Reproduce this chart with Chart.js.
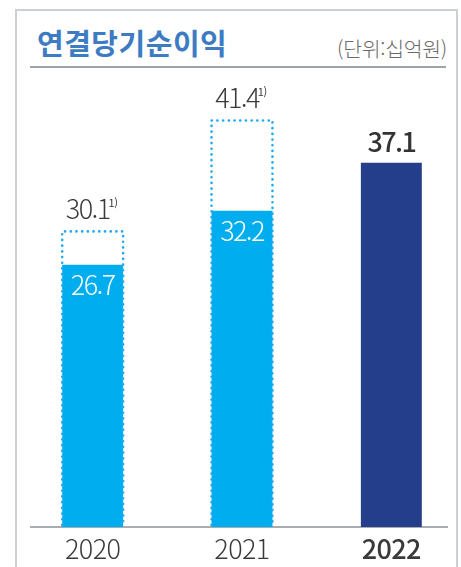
<!DOCTYPE html>
<html lang="ko">
<head>
<meta charset="utf-8">
<script src="https://cdn.jsdelivr.net/npm/chart.js@4.4.1/dist/chart.umd.min.js"></script>
<style>
    html, body { margin: 0; padding: 0; background: #fff; overflow: hidden; }
    body { width: 461px; height: 567px; position: relative; font-family: "Noto Sans CJK KR", "Noto Sans", sans-serif; }
    .frame { position: absolute; left: 15px; top: 9px; width: 443px; height: 600px; border: 2px solid #cdd0d3; box-sizing: border-box; }
    .title { position: absolute; left: 37px; top: 21px; font-size: 29px; font-weight: bold; color: #3d7cc3; letter-spacing: 0.5px; }
    .unit { position: absolute; right: 14px; top: 33px; font-size: 20.5px; color: #6a6a6a; font-weight: 300; letter-spacing: -0.3px; }
    .rule { position: absolute; left: 30px; top: 66px; width: 416px; height: 1.5px; background: #9ea3a8; }
    .axis { position: absolute; left: 30px; top: 526px; width: 418px; height: 1.5px; background: #a9adb1; }
    canvas { position: absolute; left: 0; top: 0; }
</style>
</head>
<body>
<div class="frame"></div>
<div class="title">연결당기순이익</div>
<div class="unit">(단위:십억원)</div>
<div class="rule"></div>
<div class="axis"></div>
<canvas id="profitChart" width="480" height="567"></canvas>
<script>
/* global Chart */

// 🔹 Données
const years = ["2020", "2021", "2022"];
const netIncome = [26.7, 32.2, 37.1];          // barres pleines
const restated = [30.1, 41.4, null];           // cadres pointillés
const restatedNote = ["1)", "1)", ""];
const barColors = ["#00aeef", "#00aeef", "#243e8c"];

document.addEventListener("DOMContentLoaded", function() {
    const ctx = document.getElementById("profitChart");

    // 🔹 Cadres pointillés + étiquettes de valeurs
    const labelPlugin = {
        id: "barLabels",
        beforeDraw(chart) {
            chart.ctx.letterSpacing = "-0.6px"; // police un peu plus serrée
        },
        afterDatasetsDraw(chart) {
            const c = chart.ctx;
            const base = chart.scales.y.getPixelForValue(0);
            const fillMeta = chart.getDatasetMeta(0);
            const dotMeta = chart.getDatasetMeta(1);

            c.save();
            // cadres pointillés
            dotMeta.data.forEach((bar, i) => {
                if (restated[i] === null) return;
                const l = bar.x - bar.width / 2;
                const r = bar.x + bar.width / 2;
                c.strokeStyle = "#1faaf0";
                c.lineWidth = 2.6;
                c.lineCap = "round";
                c.setLineDash([0.1, 5.6]);
                c.beginPath();
                c.moveTo(l, base - 2);
                c.lineTo(l, bar.y);
                c.lineTo(r, bar.y);
                c.lineTo(r, base - 2);
                c.stroke();
            });
            c.setLineDash([]);

            c.textAlign = "center";
            c.textBaseline = "alphabetic";
            c.letterSpacing = "-1.6px";
            // valeurs des barres pleines
            fillMeta.data.forEach((bar, i) => {
                const txt = netIncome[i].toFixed(1);
                if (restated[i] !== null) {
                    c.fillStyle = "#ffffff";
                    c.font = "300 27px 'Noto Sans CJK KR'";
                    c.fillText(txt, bar.x, bar.y + 30);
                } else {
                    c.fillStyle = "#333333";
                    c.font = "500 27px 'Noto Sans CJK KR'";
                    c.fillText(txt, bar.x, bar.y - 11);
                }
            });
            // valeurs retraitées + note
            dotMeta.data.forEach((bar, i) => {
                if (restated[i] === null) return;
                const txt = restated[i].toFixed(1);
                c.font = "300 27px 'Noto Sans CJK KR'";
                const w = c.measureText(txt).width;
                c.fillStyle = "#3a3a3a";
                c.fillText(txt, bar.x - 5, bar.y - 12);
                c.textAlign = "left";
                c.letterSpacing = "-0.5px";
                c.font = "400 11px 'Noto Sans CJK KR'";
                c.fillText(restatedNote[i], bar.x - 5 + w / 2 - 1, bar.y - 24);
                c.textAlign = "center";
                c.letterSpacing = "-1.6px";
            });
            c.restore();
        }
    };

    new Chart(ctx, {
        type: "bar",
        data: {
            labels: years,
            datasets: [{
                label: "연결당기순이익",
                data: netIncome,
                backgroundColor: barColors,
                grouped: false,
                order: 2
            }, {
                label: "1)",
                data: restated,
                backgroundColor: "rgba(0,0,0,0)",
                borderWidth: 0,
                grouped: false,
                order: 1
            }]
        },
        options: {
            responsive: false,
            animation: false,
            layout: { padding: { left: 18, right: 14, top: 36, bottom: 0 } },
            datasets: { bar: { barPercentage: 0.408, categoryPercentage: 1 } },
            plugins: { legend: { display: false }, tooltip: { enabled: false } },
            scales: {
                x: {
                    grid: { display: false, drawTicks: false },
                    border: { display: false },
                    afterFit: (scale) => { scale.height = 40; },
                    ticks: {
                        padding: 6,
                        color: "#3a3a3a",
                        font: (c) => ({
                            family: "'Noto Sans CJK KR'",
                            size: 27,
                            weight: c.index === 2 ? "500" : "300"
                        })
                    }
                },
                y: { display: false, min: 0, max: 50 }
            }
        },
        plugins: [labelPlugin]
    });
});
</script>
</body>
</html>
